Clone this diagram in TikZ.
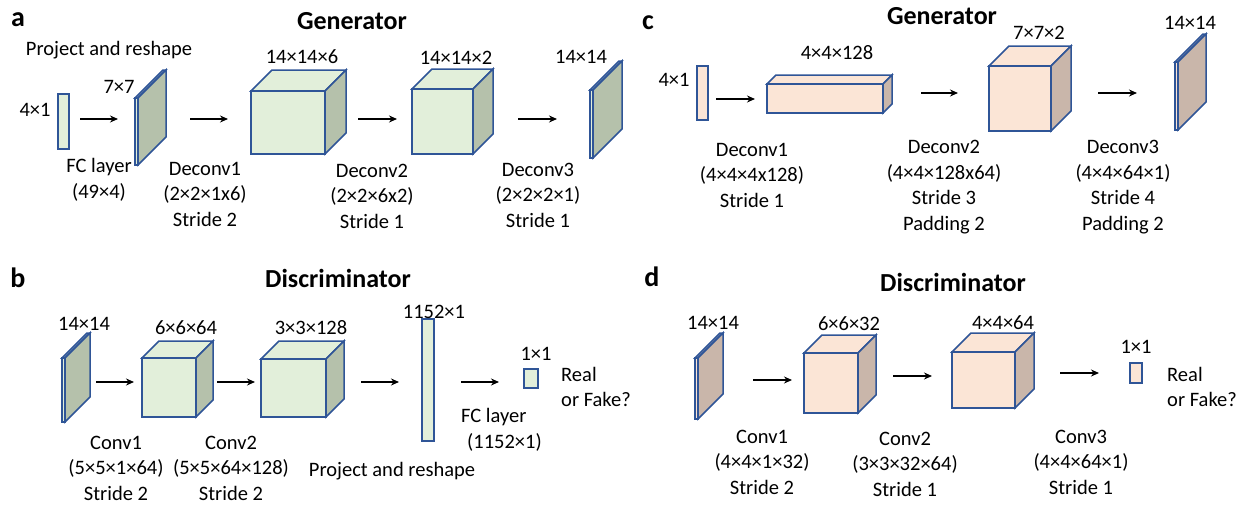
\documentclass[tikz,border=0pt]{standalone}
\usepackage{fontspec}
\setmainfont{Carlito}
\usetikzlibrary{arrows.meta}

\definecolor{edgeblue}{HTML}{2F5597}
\definecolor{gfront}{HTML}{E2EFDA}
\definecolor{gside}{HTML}{B5C1AB}
\definecolor{pfront}{HTML}{FBE5D6}
\definecolor{pside}{HTML}{C9B6AA}

\tikzset{
  txt/.style={font=\fontsize{20.5}{25.5}\selectfont, inner sep=0pt, align=center},
  ttl/.style={font=\fontsize{26}{30}\selectfont\bfseries, inner sep=0pt},
  tag/.style={font=\fontsize{28}{32}\selectfont\bfseries, inner sep=0pt},
  flow/.style={-{Stealth[length=8pt,width=7pt]}, line width=1.5pt},
  blk/.style={draw=edgeblue, line width=1.5pt, line join=miter},
}

% layer box: front face at (#1,#2), width #3, height #4, depth #5
\newcommand{\layerbox}[7]{%
  \filldraw[blk, fill=#6] (#1,#2) -- ++(#5,-#5) -- ++(#3,0) -- ++(-#5,#5) -- cycle;
  \filldraw[blk, fill=#7] (#1+#3,#2) -- ++(#5,-#5) -- ++(0,#4) -- ++(-#5,#5) -- cycle;
  \filldraw[blk, fill=#6] (#1,#2) rectangle ++(#3,#4);
}

\begin{document}
\begin{tikzpicture}[x=1pt, y=-1pt]
  \useasboundingbox (0,0) rectangle (1245,504);

  % ---------------- panel a: generator ----------------
  \node[tag] (tagA) at (18,20) {a};
  \node[ttl] (genA) at (352,21) {Generator};
  \node[txt] (projA) at (109,50) {Project and reshape};

  % input vector
  \filldraw[blk, fill=gfront] (58,94) rectangle (69,149);
  \node[txt] (inA) at (35,110) {4×1};
  \coordinate (a1s) at (80,119);  \coordinate (a1e) at (118,119);
  \draw[flow] (a1s) -- (a1e);

  % reshaped plate
  \layerbox{135}{98}{3}{67}{28}{gfront}{gside}
  \node[txt] (shA) at (119,87) {7×7};
  \node[txt] (fcA) at (99,180) {FC layer\\(49×4)};
  \coordinate (a2s) at (190,119); \coordinate (a2e) at (228,119);
  \draw[flow] (a2s) -- (a2e);

  % deconv 1
  \layerbox{251}{91}{74}{63}{21}{gfront}{gside}
  \node[txt] (c1A) at (302,57) {14×14×6};
  \node[txt] (d1A) at (205,194) {Deconv1\\(2×2×1x6)\\Stride 2};
  \coordinate (a3s) at (358,119); \coordinate (a3e) at (397,119);
  \draw[flow] (a3s) -- (a3e);

  % deconv 2
  \layerbox{412}{89}{61}{65}{20}{gfront}{gside}
  \node[txt] (c2A) at (456,58) {14×14×2};
  \node[txt] (d2A) at (372,196) {Deconv2\\(2×2×6x2)\\Stride 1};
  \coordinate (a4s) at (518,119); \coordinate (a4e) at (557,119);
  \draw[flow] (a4s) -- (a4e);

  % output plate
  \layerbox{590}{90}{3}{68}{29}{gfront}{gside}
  \node[txt] (outA) at (581,57) {14×14};
  \node[txt] (d3A) at (538,195) {Deconv3\\(2×2×2×1)\\Stride 1};

  % ---------------- panel b: discriminator ----------------
  \node[tag] (tagB) at (18,278) {b};
  \node[ttl] (disB) at (338,278) {Discriminator};

  % input plate
  \layerbox{62}{358}{3}{64}{25}{gfront}{gside}
  \node[txt] (inB) at (84,324) {14×14};
  \coordinate (b1s) at (96,382);  \coordinate (b1e) at (134,382);
  \draw[flow] (b1s) -- (b1e);

  % conv 1
  \layerbox{142}{358}{54}{59}{17}{gfront}{gside}
  \node[txt] (c1B) at (186,328) {6×6×64};
  \node[txt] (k1B) at (116,468) {Conv1\\(5×5×1×64)\\Stride 2};
  \coordinate (b2s) at (217,382); \coordinate (b2e) at (255,382);
  \draw[flow] (b2s) -- (b2e);

  % conv 2
  \layerbox{261}{359}{65}{58}{18}{gfront}{gside}
  \node[txt] (c2B) at (311,328) {3×3×128};
  \node[txt] (k2B) at (231,468) {Conv2\\(5×5×64×128)\\Stride 2};
  \coordinate (b3s) at (361,382); \coordinate (b3e) at (399,382);
  \draw[flow] (b3s) -- (b3e);

  % flattened vector
  \filldraw[blk, fill=gfront] (422,319) rectangle (434,441);
  \node[txt] (flB) at (434,312) {1152×1};
  \node[txt] (projB) at (392,471) {Project and reshape};
  \coordinate (b4s) at (461,382); \coordinate (b4e) at (499,382);
  \draw[flow] (b4s) -- (b4e);
  \node[txt, align=left, anchor=west] (fcB) at (461,430) {FC layer\\\hspace*{6pt}(1152×1)};

  % output
  \filldraw[blk, fill=gfront] (524,369) rectangle (538,388);
  \node[txt] (outB) at (536,354) {1×1};
  \node[txt, align=left, anchor=west] (rfB) at (561,387) {Real\\or Fake?};

  % ---------------- panel c: generator ----------------
  \node[tag] (tagC) at (648,23) {c};
  \node[ttl] (genC) at (942,16) {Generator};

  % input vector
  \filldraw[blk, fill=pfront] (697,66) rectangle (708,120);
  \node[txt] (inC) at (674,80) {4×1};
  \coordinate (c1s) at (716,99);  \coordinate (c1e) at (755,99);
  \draw[flow] (c1s) -- (c1e);

  % deconv 1
  \layerbox{767}{84}{116}{29}{9}{pfront}{pside}
  \node[txt] (c1C) at (837,53) {4×4×128};
  \node[txt] (d1C) at (752,175) {Deconv1\\(4×4×4x128)\\Stride 1};
  \coordinate (c2s) at (921,93);  \coordinate (c2e) at (958,93);
  \draw[flow] (c2s) -- (c2e);

  % deconv 2
  \layerbox{989}{66}{62}{65}{20}{pfront}{pside}
  \node[txt] (c2C) at (1039,33) {7×7×2};
  \node[txt] (d2C) at (944,187) {Deconv2\\(4×4×128x64)\\Stride 3\\Padding 2};
  \coordinate (c3s) at (1098,93); \coordinate (c3e) at (1137,93);
  \draw[flow] (c3s) -- (c3e);

  % output plate
  \layerbox{1175}{62}{3}{68}{28}{pfront}{pside}
  \node[txt] (outC) at (1190,23) {14×14};
  \node[txt] (d3C) at (1123,187) {Deconv3\\(4×4×64×1)\\Stride 4\\Padding 2};

  % ---------------- panel d: discriminator ----------------
  \node[tag] (tagD) at (652,277) {d};
  \node[ttl] (disD) at (953,282) {Discriminator};

  % input plate
  \layerbox{695}{358}{3}{61}{25}{pfront}{pside}
  \node[txt] (inD) at (713,323) {14×14};
  \coordinate (d1s) at (753,380); \coordinate (d1e) at (792,380);
  \draw[flow] (d1s) -- (d1e);

  % conv 1
  \layerbox{804}{353}{54}{60}{18}{pfront}{pside}
  \node[txt] (c1D) at (849,324) {6×6×32};
  \node[txt] (k1D) at (762,462) {Conv1\\(4×4×1×32)\\Stride 2};
  \coordinate (d2s) at (893,376); \coordinate (d2e) at (932,376);
  \draw[flow] (d2s) -- (d2e);

  % conv 2
  \layerbox{952}{352}{63}{56}{19}{pfront}{pside}
  \node[txt] (c2D) at (1003,323) {4×4×64};
  \node[txt] (k2D) at (905,464) {Conv2\\(3×3×32×64)\\Stride 1};
  \coordinate (d3s) at (1060,373); \coordinate (d3e) at (1099,373);
  \draw[flow] (d3s) -- (d3e);

  % output
  \filldraw[blk, fill=pfront] (1130,363) rectangle (1142,383);
  \node[txt] (outD) at (1136,347) {1×1};
  \node[txt, align=left, anchor=west] (rfD) at (1167,387) {Real\\or Fake?};
  \node[txt] (k3D) at (1081,462) {Conv3\\(4×4×64×1)\\Stride 1};
\end{tikzpicture}
\end{document}
